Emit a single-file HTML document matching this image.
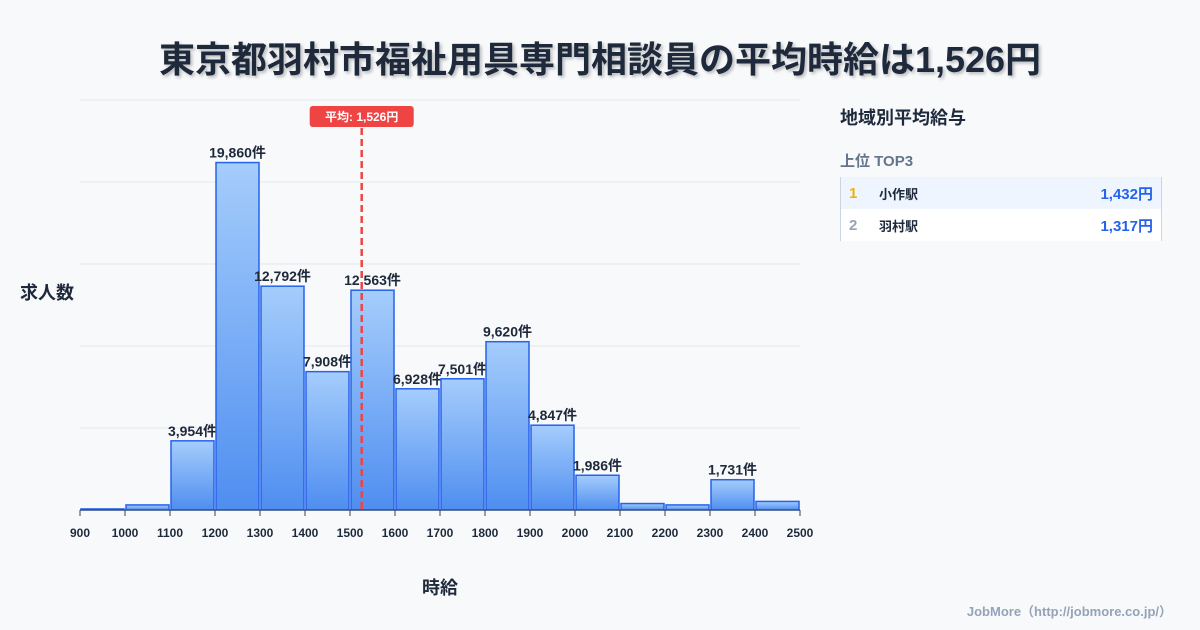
<!DOCTYPE html>
<html><head><meta charset="utf-8">
<style>
body{margin:0;width:1200px;height:630px;background:#f8f9fb;font-family:"Liberation Sans","Noto Sans CJK JP",sans-serif;overflow:hidden;position:relative}
.title{position:absolute;top:31px;left:0;width:1200px;text-align:center;font-size:36px;font-weight:bold;color:#1e293b;text-shadow:2px 2px 3px rgba(0,0,0,0.25)}
.side{position:absolute;left:840px;top:104px;width:322px}
.side h3{margin:0;font-size:18px;font-weight:bold;color:#1e293b}
.sub{margin-top:20px;font-size:15px;font-weight:bold;color:#64748b}
.tbl{margin-top:6px;border-left:1px solid #cbd5e1;border-right:1px solid #cbd5e1}
.row{height:32px;display:flex;align-items:center;font-size:13px;font-weight:bold;color:#1e293b}
.row .n{width:30px;padding-left:8px;font-size:15px}
.row .s{flex:1}
.row .v{padding-right:8px;color:#2563eb;font-size:15px}
.foot{position:absolute;right:28px;bottom:10px;font-size:13px;color:#94a3b8;font-weight:bold}
</style></head><body>
<div class="title">東京都羽村市福祉用具専門相談員の平均時給は1,526円</div>
<svg id="chart" width="1200" height="630" style="position:absolute;left:0;top:0">
<defs><linearGradient id="g" x1="0" y1="0" x2="0" y2="1"><stop offset="0" stop-color="#a5cdfc"/><stop offset="1" stop-color="#4f8ef0"/></linearGradient></defs>
</svg>
<div class="side">
<h3>地域別平均給与</h3>
<div class="sub">上位 TOP3</div>
<div class="tbl">
<div class="row" style="background:#eef5ff"><span class="n" style="color:#eab308">1</span><span class="s">小作駅</span><span class="v">1,432円</span></div>
<div class="row" style="background:#fff"><span class="n" style="color:#94a3b8">2</span><span class="s">羽村駅</span><span class="v">1,317円</span></div>
</div></div>
<div class="foot">JobMore（http://jobmore.co.jp/）</div>
<script>
const binStarts=[900,1000,1100,1200,1300,1400,1500,1600,1700,1800,1900,2000,2100,2200,2300,2400];
const counts=[60,290,3954,19860,12792,7908,12563,6928,7501,9620,4847,1986,370,290,1731,490];
const showLabel=[false,false,true,true,true,true,true,true,true,true,true,true,false,false,true,false];
const xTicks=[900,1000,1100,1200,1300,1400,1500,1600,1700,1800,1900,2000,2100,2200,2300,2400,2500];
const meanValue=1526;
const yMax=23435;
const NS="http://www.w3.org/2000/svg";
const svg=document.getElementById('chart');
const X0=80,X1=800,Y0=510,Y1=100;
const xs=v=>X0+(v-900)/(2500-900)*(X1-X0);
const ys=v=>Y0-v/yMax*(Y0-Y1);
function mk(t,a){const e=document.createElementNS(NS,t);for(const k in a)e.setAttribute(k,a[k]);svg.appendChild(e);return e;}
for(let i=0;i<=5;i++){const y=Y0-i*(Y0-Y1)/5;const l=mk('line',{x1:X0,x2:X1,y1:y,y2:y,stroke:'#e5e7eb','stroke-width':1});

}
binStarts.forEach((b,i)=>{const x=xs(b)+1,w=xs(b+100)-xs(b)-2,y=ys(counts[i]);
const r=mk('rect',{x:x,y:y,width:w,height:Y0-y,fill:'url(#g)',stroke:'#2563eb','stroke-width':1.5});


if(showLabel[i]){const t=mk('text',{x:x+w/2,y:y-5,'text-anchor':'middle','font-size':14,'font-weight':'bold',fill:'#1e293b'});t.textContent=counts[i].toLocaleString('en-US')+'件';

}});
const ax=mk('line',{x1:X0,x2:X1,y1:Y0,y2:Y0,stroke:'#374151','stroke-width':1});


xTicks.forEach(v=>{const x=xs(v);mk('line',{x1:x,x2:x,y1:Y0,y2:Y0+6,stroke:'#374151'});
const t=mk('text',{x:x,y:537,'text-anchor':'middle','font-size':12,'font-weight':'bold',fill:'#1e293b'});t.textContent=v;

});
const mx=xs(meanValue);
const ml=mk('line',{x1:mx,x2:mx,y1:128,y2:Y0,stroke:'#ef4444','stroke-width':2.5,'stroke-dasharray':'7,4'});


const mb=mk('rect',{x:mx-52,y:106,width:104,height:21,rx:3,fill:'#ef4444'});


const mt=mk('text',{x:mx,y:121,'text-anchor':'middle','font-size':12,'font-weight':'bold',fill:'#fff'});mt.textContent='平均: '+meanValue.toLocaleString('en-US')+'円';


const yt=mk('text',{x:20,y:299,'font-size':18,'font-weight':'bold',fill:'#1e293b'});yt.textContent='求人数';


const xt=mk('text',{x:440,y:594,'text-anchor':'middle','font-size':18,'font-weight':'bold',fill:'#1e293b'});xt.textContent='時給';


</script>
</body></html>
